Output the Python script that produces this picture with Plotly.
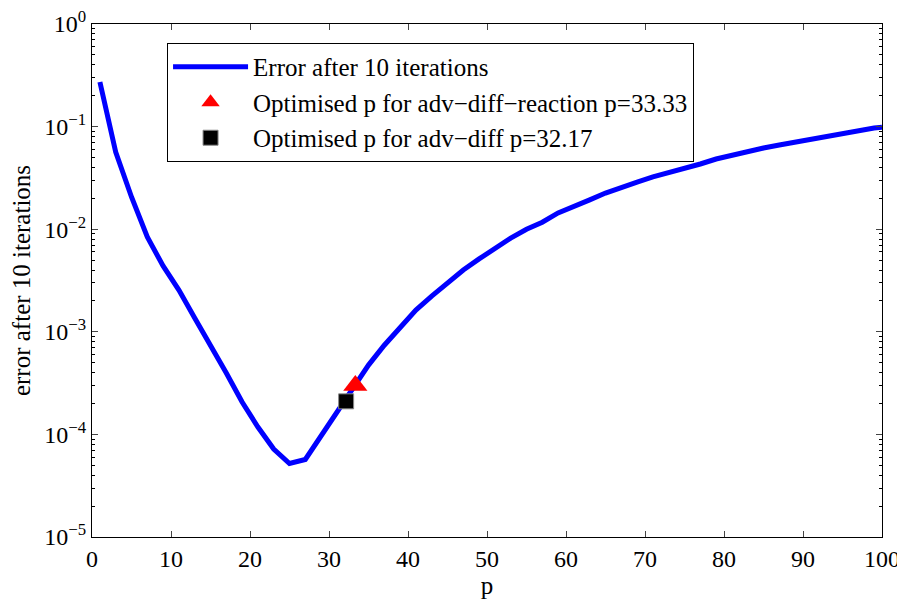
import plotly.graph_objects as go

p_vals = [1, 3, 5, 7, 9, 11, 13, 15, 17, 19, 21, 23, 25, 27, 29, 31, 33, 35, 37, 39,
          41, 43, 45, 47, 49, 51, 53, 55, 57, 59, 61, 63, 65, 67, 69, 71, 73, 75, 77, 79,
          81, 83, 85, 87, 89, 91, 93, 95, 97, 99, 100]
err_vals = [0.272, 0.0565, 0.0206, 0.0084, 0.00438, 0.00255, 0.00136, 0.000744, 0.000397,
            0.000207, 0.000118, 7.2e-5, 5.2e-5, 5.7e-5, 9.6e-5, 1.65e-4, 2.83e-4, 4.74e-4,
            7.4e-4, 1.11e-3, 1.63e-3, 2.23e-3, 2.99e-3, 4.0e-3, 5.13e-3, 6.56e-3, 8.2e-3,
            1.0e-2, 1.17e-2, 1.44e-2, 1.65e-2, 1.93e-2, 2.25e-2, 2.58e-2, 2.88e-2, 3.23e-2,
            3.53e-2, 3.95e-2, 4.32e-2, 4.83e-2, 5.28e-2, 5.65e-2, 6.18e-2, 6.62e-2, 7.08e-2,
            7.57e-2, 8.1e-2, 8.47e-2, 9.06e-2, 9.7e-2, 0.0985]

tri_p = [33.33]
tri_err = [3.0e-4]
sq_p = [32.17]
sq_err = [2.1e-4]

ytick_vals = [1e-5, 1e-4, 1e-3, 1e-2, 1e-1, 1]
ytick_text = ["10<sup>−5</sup>", "10<sup>−4</sup>", "10<sup>−3</sup>", "10<sup>−2</sup>",
              "10<sup>−1</sup>", "10<sup>0</sup>"]
xtick_vals = [0, 10, 20, 30, 40, 50, 60, 70, 80, 90, 100]
minor_vals = [m * 10 ** e for e in range(-5, 0) for m in range(2, 10)]

font_family = "Liberation Serif, Times New Roman, serif"

fig = go.Figure()
fig.add_trace(go.Scatter(x=p_vals, y=err_vals, mode="lines",
                         line=dict(color="#0000FF", width=5),
                         name="Error after 10 iterations"))
fig.add_trace(go.Scatter(x=tri_p, y=tri_err, mode="markers",
                         marker=dict(symbol="triangle-up", color="#FF0000", size=21,
                                     line=dict(width=0)),
                         name="Optimised p for adv−diff−reaction p=33.33"))
fig.add_trace(go.Scatter(x=sq_p, y=sq_err, mode="markers",
                         marker=dict(symbol="square", color="#000000", size=15,
                                     line=dict(width=1, color="#888888")),
                         name="Optimised p for adv−diff p=32.17"))

fig.update_layout(
    width=905, height=604,
    margin=dict(l=84, r=31, t=16, b=75),
    paper_bgcolor="white", plot_bgcolor="white",
    font=dict(family=font_family, size=25, color="black"),
    showlegend=True,
    legend=dict(x=0.095, y=0.963, xanchor="left", yanchor="top",
                bordercolor="black", borderwidth=1, bgcolor="white",
                font=dict(size=25, family=font_family), itemwidth=75,
                tracegroupgap=0),
    xaxis=dict(range=[0, 100], tickvals=xtick_vals, ticks="inside", ticklen=6,
               showline=True, linecolor="black", linewidth=1, mirror="ticks",
               showgrid=False, zeroline=False, automargin=False,
               ticklabeloverflow="allow",
               title=dict(text="p", standoff=2, font=dict(size=25)),
               tickfont=dict(size=24)),
    yaxis=dict(type="log", range=[-5, 0], tickvals=ytick_vals, ticktext=ytick_text,
               ticks="inside", ticklen=6,
               showline=True, linecolor="black", linewidth=1, mirror="ticks",
               showgrid=False, zeroline=False, automargin=False,
               ticklabeloverflow="allow",
               minor=dict(tickmode="array", tickvals=minor_vals, ticks="inside",
                          ticklen=3, showgrid=False, tickcolor="black"),
               title=dict(text="error after 10 iterations", standoff=8, font=dict(size=25)),
               tickfont=dict(size=24)),
)

fig.write_html("out.html")
